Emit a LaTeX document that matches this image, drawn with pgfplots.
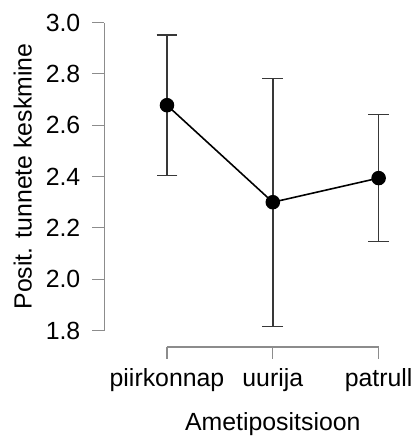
\documentclass[border=0pt]{standalone}
\usepackage{fontspec}
\setmainfont{Liberation Sans}
\usepackage{pgfplots}
\pgfplotsset{compat=1.18}
\definecolor{axgray}{gray}{0.55}
\definecolor{ebgray}{gray}{0.22}
\begin{document}
\begin{tikzpicture}
\begin{axis}[
  x=106.5pt, y=258.3pt,
  xmin=0.408, xmax=3.3, ymin=1.7356, ymax=3.0,
  clip=false,
  axis line style={draw=none},
  xtick={1,2,3}, xticklabels={piirkonnap,uurija,patrull},
  ytick={1.8,2,2.2,2.4,2.6,2.8,3},
  xtick pos=bottom, ytick pos=left,
  tick align=outside,
  major tick length=12pt,
  tick style={axgray, line width=1.2pt},
  /pgf/number format/.cd, fixed, fixed zerofill, precision=1, assume math mode=true,
  /pgfplots/.cd,
  tick label style={font=\fontsize{25}{29}\selectfont},
  yticklabel style={anchor=east, inner sep=0pt, xshift=-12pt},
  xticklabel style={anchor=base, inner sep=0pt, yshift=-28pt},
]
\addplot[black, line width=1.6pt, mark=*, mark size=6.5pt, mark options={solid, fill=black},
  error bars/.cd, y dir=both, y explicit,
  error bar style={ebgray, line width=1.4pt},
  error mark options={ebgray, rotate=90, mark size=10.5pt, line width=1.4pt}]
 table[x=x, y=y, y error plus=ep, y error minus=em] {
x y ep em
1 2.678 0.274 0.274
2 2.300 0.483 0.485
3 2.394 0.247 0.248
};
\draw[axgray, line width=1.2pt] (axis cs:0.408,1.8) -- (axis cs:0.408,3.0);
\draw[axgray, line width=1.2pt] (axis cs:1,1.7356) -- (axis cs:3,1.7356);
\node[font=\fontsize{25}{29}\selectfont, anchor=base] at (axis cs:2,1.4104) {Ametipositsioon};
\node[font=\fontsize{25}{29}\selectfont, anchor=base, rotate=90] at (axis cs:-0.2803,2.4) {Posit. tunnete keskmine};
\path (axis cs:-0.578,3.0879) rectangle (axis cs:3.3376,1.3883);
\end{axis}
\end{tikzpicture}
\end{document}
